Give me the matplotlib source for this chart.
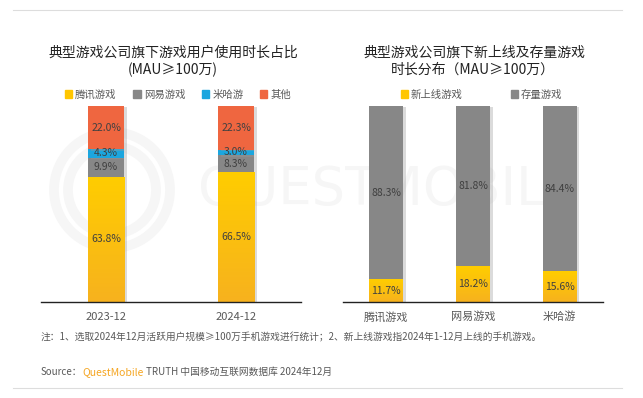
import numpy as np
import matplotlib.pyplot as plt
import matplotlib.patheffects as pe
from matplotlib.patches import Patch, Circle
from matplotlib.colors import LinearSegmentedColormap

plt.rcParams['font.family'] = ['Noto Sans CJK SC', 'DejaVu Sans']

# data: left chart (share of time by company)
periods = ['2023-12', '2024-12']
tencent = [63.8, 66.5]
netease = [9.9, 8.3]
mihoyo = [4.3, 3.0]
others = [22.0, 22.3]
left_series = ['腾讯游戏', '网易游戏', '米哈游', '其他']

# data: right chart (new vs existing games)
companies = ['腾讯游戏', '网易游戏', '米哈游']
new_games = [11.7, 18.2, 15.6]
old_games = [88.3, 81.8, 84.4]
right_series = ['新上线游戏', '存量游戏']

YELLOW = '#FFC600'
GRAY = '#878787'
BLUE = '#1BA6DF'
RED = '#EF6640'
TXT = '#404040'

W, H = 643, 398
fig = plt.figure(figsize=(W / 100, H / 100), dpi=100)


def px_axes(x0, x1, ytop, ybot):
    return fig.add_axes([x0 / W, 1 - ybot / H, (x1 - x0) / W, (ybot - ytop) / H])


shadow = [pe.SimplePatchShadow(offset=(2, -1), shadow_rgbFace='#999999', alpha=0.35), pe.Normal()]

# yellow gradient (light top, deeper bottom)
grad = np.linspace(0, 1, 100).reshape(-1, 1)
ycmap = LinearSegmentedColormap.from_list('y', ['#FFCD00', '#F7B21E'])


def yellow_bar(ax, x, h, w):
    b = ax.bar(x, h, w, color=YELLOW, path_effects=shadow, zorder=2)[0]
    im = ax.imshow(grad, cmap=ycmap, aspect='auto', zorder=2.5,
                   extent=(x - w / 2, x + w / 2, 0, h))
    im.set_clip_path(b)
    return b


def style(ax, n):
    ax.set_xlim(-0.5, n - 0.5)
    ax.set_ylim(0, 100)
    for s in ['top', 'right', 'left']:
        ax.spines[s].set_visible(False)
    ax.spines['bottom'].set_color('#222222')
    ax.spines['bottom'].set_linewidth(1.0)
    ax.set_yticks([])
    ax.tick_params(axis='x', length=0, pad=7, labelsize=8, labelcolor='#595959')
    ax.set_facecolor('none')


# faint watermark behind everything
fig.text(388 / W, 1 - 190 / H, 'QUESTMOBILE', fontsize=38, color='#f6f6f6',
         ha='center', va='center', family='DejaVu Sans', zorder=-5)
for r in [58, 44]:
    fig.patches.append(Circle((112, H - 190), r, transform=None, fill=False,
                              ec='#f6f6f6', lw=7, zorder=-5))

# ---- left chart
ax1 = px_axes(41, 301, 106, 302)
x1 = np.arange(len(periods))
bw1 = 0.28
bottom = np.zeros(len(periods))
for i in range(len(periods)):
    yellow_bar(ax1, x1[i], tencent[i], bw1)
bottom += tencent
ax1.bar(x1, netease, bw1, bottom=bottom, color=GRAY, path_effects=shadow, zorder=2)
b2 = bottom.copy()
bottom += netease
ax1.bar(x1, mihoyo, bw1, bottom=bottom, color=BLUE, path_effects=shadow, zorder=2)
b3 = bottom.copy()
bottom += mihoyo
ax1.bar(x1, others, bw1, bottom=bottom, color=RED, path_effects=shadow, zorder=2)
b4 = bottom.copy()
for i in range(len(periods)):
    for val, base in [(tencent[i], 0), (netease[i], b2[i]), (mihoyo[i], b3[i]), (others[i], b4[i])]:
        ax1.text(x1[i], base + val / 2, f'{val:.1f}%', ha='center', va='center',
                 fontsize=7.5, color=TXT, zorder=4)
ax1.set_xticks(x1, periods)
style(ax1, len(periods))
h1 = [Patch(color=c) for c in [YELLOW, GRAY, BLUE, RED]]
ax1.legend(h1, left_series, loc='lower center', bbox_to_anchor=(0.527, 1.0), ncol=4,
           frameon=False, fontsize=7.5, handlelength=0.7, handleheight=0.7,
           handletextpad=0.3, columnspacing=1.6, labelcolor='#595959', borderaxespad=0.2)

# ---- right chart
ax2 = px_axes(343, 603, 106, 302)
x2 = np.arange(len(companies))
bw2 = 0.39
for i in range(len(companies)):
    yellow_bar(ax2, x2[i], new_games[i], bw2)
ax2.bar(x2, old_games, bw2, bottom=new_games, color=GRAY, path_effects=shadow, zorder=2)
for i in range(len(companies)):
    ax2.text(x2[i], new_games[i] / 2, f'{new_games[i]:.1f}%', ha='center', va='center',
             fontsize=7.5, color=TXT, zorder=4)
    ax2.text(x2[i], new_games[i] + old_games[i] / 2, f'{old_games[i]:.1f}%', ha='center',
             va='center', fontsize=7.5, color=TXT, zorder=4)
ax2.set_xticks(x2, companies)
style(ax2, len(companies))
h2 = [Patch(color=c) for c in [YELLOW, GRAY]]
ax2.legend(h2, right_series, loc='lower center', bbox_to_anchor=(0.533, 1.0), ncol=2,
           frameon=False, fontsize=7.5, handlelength=0.7, handleheight=0.7,
           handletextpad=0.3, columnspacing=4.6, labelcolor='#595959', borderaxespad=0.2)

# titles
title_kw = dict(ha='center', va='center', fontsize=10, color='#222222', weight='medium')
fig.text(173 / W, 1 - 53 / H, '典型游戏公司旗下游戏用户使用时长占比', **title_kw)
fig.text(173 / W, 1 - 70 / H, '(MAU≥100万)', **title_kw)
fig.text(475 / W, 1 - 53 / H, '典型游戏公司旗下新上线及存量游戏', **title_kw)
fig.text(473 / W, 1 - 70 / H, '时长分布（MAU≥100万）', **title_kw)

# separator lines
fig.add_artist(plt.Line2D([13 / W, 622 / W], [1 - 10 / H, 1 - 10 / H], color='#dddddd', lw=0.8))
fig.add_artist(plt.Line2D([13 / W, 622 / W], [1 - 388 / H, 1 - 388 / H], color='#dddddd', lw=0.8))

# notes
fig.text(41 / W, 1 - 337 / H,
         '注：1、选取2024年12月活跃用户规模≥100万手机游戏进行统计；2、新上线游戏指2024年1-12月上线的手机游戏。',
         ha='left', va='center', fontsize=7, color='#595959')
t = fig.text(41 / W, 1 - 372 / H, 'Source：', ha='left', va='center', fontsize=7, color='#595959')
fig.canvas.draw()
bb = t.get_window_extent()
t2 = fig.text(bb.x1 / W, 1 - 372 / H, 'QuestMobile', ha='left', va='center', fontsize=7.5, color='#F5A623')
bb2 = t2.get_window_extent()
fig.text(bb2.x1 / W + 0.004, 1 - 372 / H, 'TRUTH 中国移动互联网数据库 2024年12月', ha='left', va='center',
         fontsize=7, color='#595959')

fig.savefig('out.png', dpi=100)
